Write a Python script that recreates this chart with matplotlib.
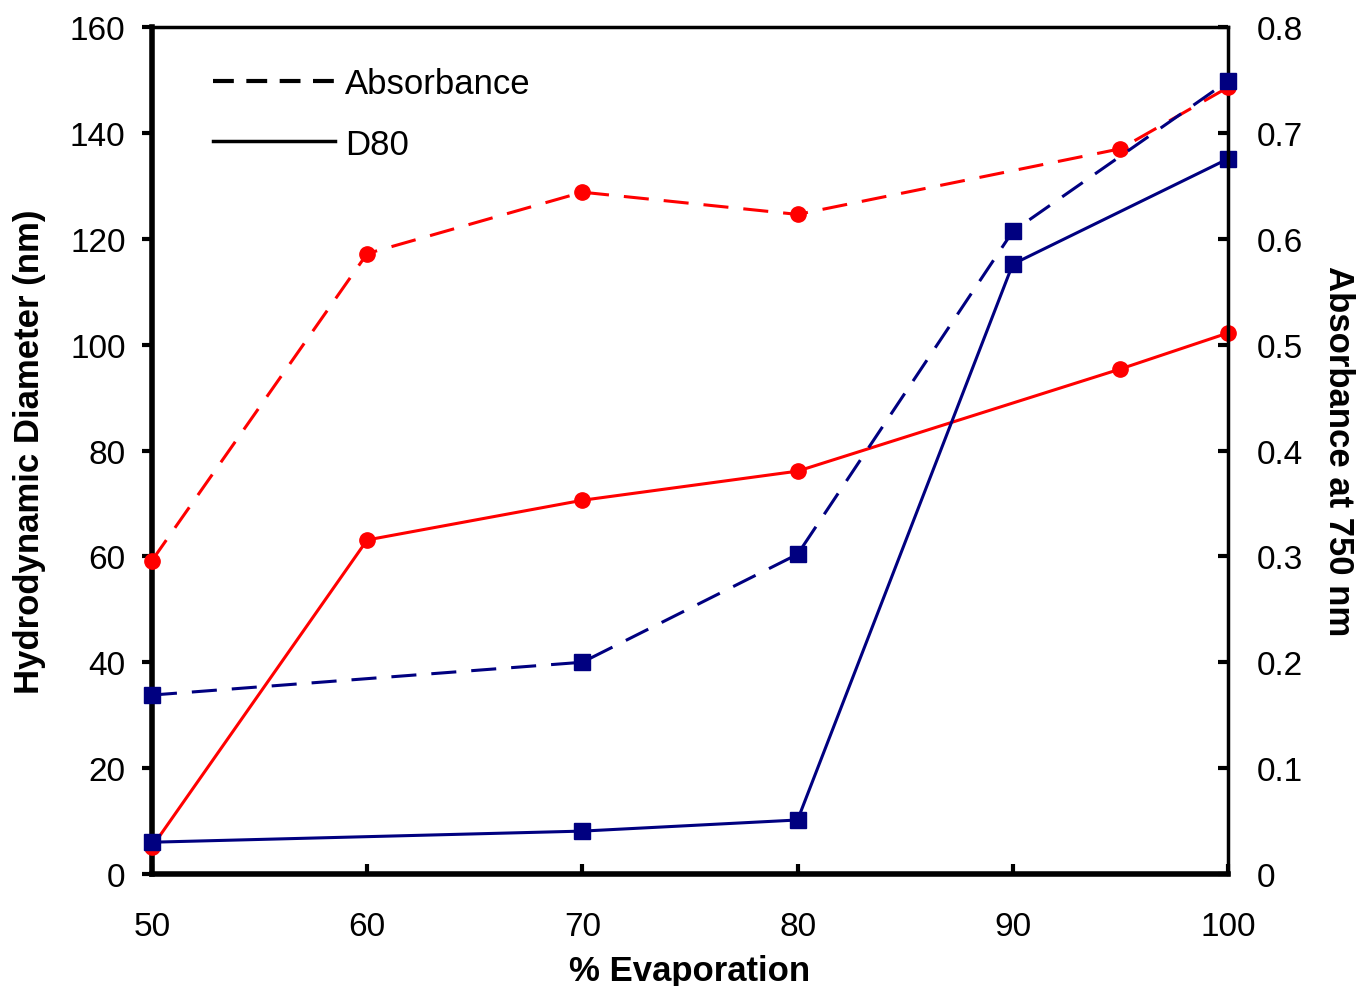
import matplotlib
matplotlib.use('Agg')
import matplotlib.pyplot as plt
from matplotlib.lines import Line2D

plt.rcParams['font.family'] = ['Liberation Sans', 'DejaVu Sans']

# red series
red_x = [50, 60, 70, 80, 95, 100]
red_d80 = [5.1, 63.1, 70.6, 76.1, 95.4, 102.2]
red_abs = [0.296, 0.586, 0.644, 0.623, 0.685, 0.743]

# blue series
blue_x = [50, 70, 80, 90, 100]
blue_d80 = [6.0, 8.1, 10.2, 115.2, 135.1]
blue_abs = [0.169, 0.200, 0.302, 0.607, 0.749]

RED = '#ff0000'
NAVY = '#000080'
dash = (0, (8.2, 4.9))
FS = 25
LW = 2.2

fig = plt.figure(figsize=(13.59, 9.87), dpi=100, facecolor='white')
ax = fig.add_axes([0.1118, 0.1135, 0.7918, 0.8581])
ax2 = ax.twinx()

# D80 on left axis (solid)
ax.plot(red_x, red_d80, color=RED, lw=LW, marker='o', ms=11, clip_on=False, zorder=3)
ax.plot(blue_x, blue_d80, color=NAVY, lw=LW, marker='s', ms=11, clip_on=False, zorder=4)

# absorbance on right axis (dashed)
ax2.plot(red_x, red_abs, color=RED, lw=LW, ls=dash, marker='o', ms=11, clip_on=False, zorder=3)
ax2.plot(blue_x, blue_abs, color=NAVY, lw=LW, ls=dash, marker='s', ms=11, clip_on=False, zorder=4)

ax.set_xlim(50, 100)
ax.set_ylim(0, 160)
ax2.set_ylim(0, 0.8)
ax.set_xticks(range(50, 101, 10))
ax.set_yticks(range(0, 161, 20))
ax2.set_yticks([i / 10 for i in range(9)])
ax2.set_yticklabels(['0'] + [f'{i/10:.1f}' for i in range(1, 9)])

for a in (ax, ax2):
    for s in a.spines.values():
        s.set_color('black')
ax.spines['left'].set_linewidth(4)
ax.spines['bottom'].set_linewidth(4)
ax.spines['top'].set_linewidth(2.5)
ax2.spines['right'].set_linewidth(2.5)
ax2.spines['left'].set_visible(False)
ax2.spines['bottom'].set_visible(False)
ax2.spines['top'].set_visible(False)

ax.tick_params(axis='y', direction='out', length=7, width=3, labelsize=FS - 1, pad=12)
ax.tick_params(axis='x', direction='in', length=7, width=3, labelsize=FS - 1, pad=27)
ax2.tick_params(axis='y', direction='in', length=7, width=3, labelsize=FS - 1, pad=21)

ax.set_xlabel('% Evaporation', fontsize=FS, fontweight='bold', labelpad=8)
ax.set_ylabel('Hydrodynamic Diameter (nm)', fontsize=FS, fontweight='bold', labelpad=17)
ax2.set_ylabel('Absorbance at 750 nm', fontsize=FS, fontweight='bold', rotation=270, labelpad=37)

handles = [Line2D([0], [0], color='black', lw=3, ls=(0, (5, 3))),
           Line2D([0], [0], color='black', lw=2.5)]
ax.legend(handles, ['Absorbance', 'D80'], loc='upper left', bbox_to_anchor=(0.028, 0.99),
          frameon=False, fontsize=FS, handlelength=3.5, handletextpad=0.3, labelspacing=0.8)

fig.savefig('out.png', dpi=100, facecolor='white')
